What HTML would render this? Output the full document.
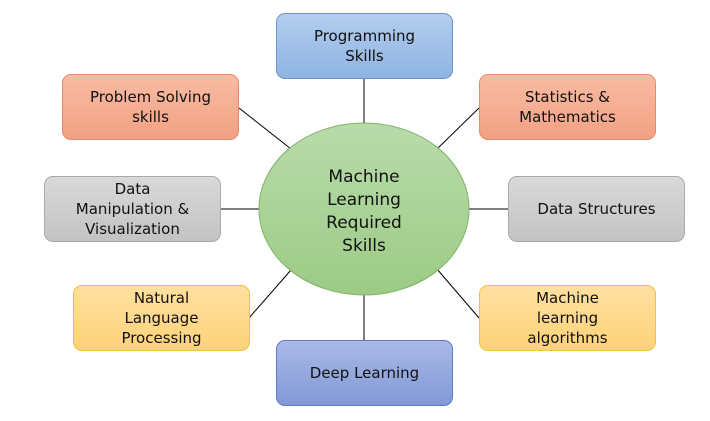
<!DOCTYPE html>
<html><head><style>
body{margin:0;width:710px;height:421px;background:#fff;overflow:hidden;position:relative;font-family:"DejaVu Sans","Liberation Sans",sans-serif;}
.b{position:absolute;width:177px;height:66px;border-radius:9px;box-sizing:border-box;display:flex;align-items:center;justify-content:center;text-align:center;font-size:15px;line-height:20px;color:#111;}
.blue{background:linear-gradient(#b3cdee,#8fb3e2);border:1px solid #6f95c8;}
.org{background:linear-gradient(#f8bca4,#f3a082);border:1px solid #e8896a;}
.gry{background:linear-gradient(#d9d9d9,#c3c3c3);border:1px solid #a9a9a9;}
.yel{background:linear-gradient(#ffe0a0,#fdd27a);border:1px solid #f2c242;}
.dblue{background:linear-gradient(#aab9e6,#8199d6);border:1px solid #5f7bc4;}
svg{position:absolute;left:0;top:0}
</style></head><body>
<svg width="710" height="421">
<g stroke="#000" stroke-width="1">
<line x1="364" y1="78" x2="364" y2="124"/>
<line x1="239" y1="108" x2="291" y2="149"/>
<line x1="479" y1="108" x2="437" y2="149"/>
<line x1="221" y1="209" x2="260" y2="209"/>
<line x1="469" y1="209" x2="508" y2="209"/>
<line x1="249" y1="318" x2="291" y2="270"/>
<line x1="479" y1="318" x2="437" y2="269"/>
<line x1="364" y1="294" x2="364" y2="340"/>
</g>
<defs><linearGradient id="g" x1="0" y1="0" x2="0" y2="1"><stop offset="0" stop-color="#b9dbab"/><stop offset="1" stop-color="#9ccb86"/></linearGradient></defs>
<ellipse cx="364" cy="209" rx="105" ry="86" fill="url(#g)" stroke="#7fb267"/>
<text x="364" y="182" font-size="17" text-anchor="middle" font-family="DejaVu Sans,sans-serif" fill="#111">
<tspan x="364" dy="0">Machine</tspan><tspan x="364" dy="23">Learning</tspan><tspan x="364" dy="23">Required</tspan><tspan x="364" dy="23">Skills</tspan></text>
</svg>
<div class="b blue" style="left:276px;top:13px">Programming<br>Skills</div>
<div class="b org" style="left:62px;top:74px">Problem Solving<br>skills</div>
<div class="b org" style="left:479px;top:74px">Statistics &amp;<br>Mathematics</div>
<div class="b gry" style="left:44px;top:176px">Data<br>Manipulation &amp;<br>Visualization</div>
<div class="b gry" style="left:508px;top:176px">Data Structures</div>
<div class="b yel" style="left:73px;top:285px">Natural<br>Language<br>Processing</div>
<div class="b yel" style="left:479px;top:285px">Machine<br>learning<br>algorithms</div>
<div class="b dblue" style="left:276px;top:340px">Deep Learning</div>
</body></html>
